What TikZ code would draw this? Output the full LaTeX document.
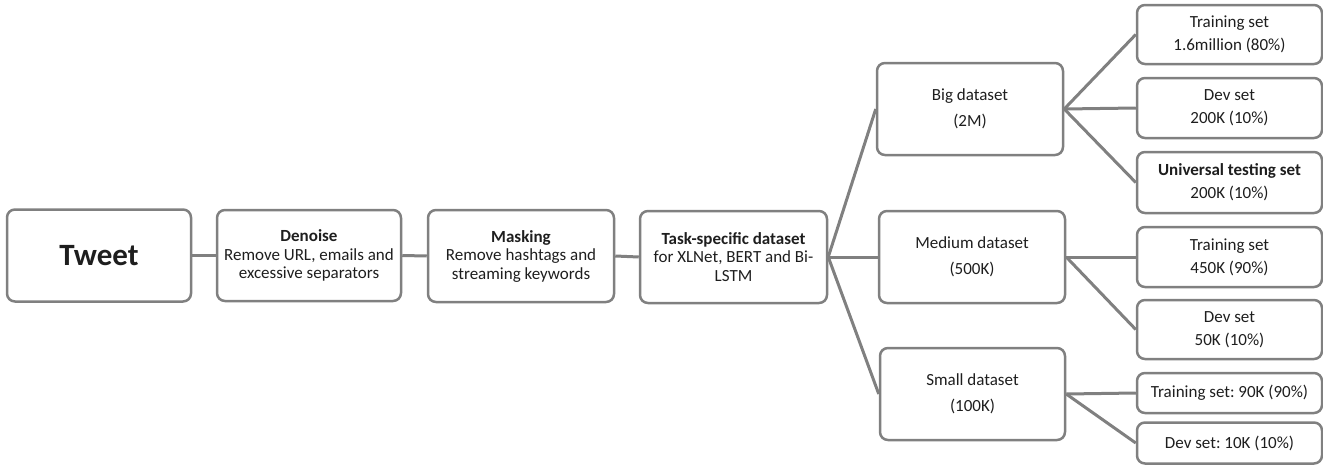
\documentclass[tikz,border=0pt]{standalone}
\usepackage{fontspec}
\setmainfont{Carlito}
\frenchspacing
\definecolor{boxgray}{RGB}{128,128,128}
\definecolor{txtgray}{RGB}{30,30,30}

\tikzset{every picture/.style={line width=2.5pt}}
\tikzset{
  stagebox/.style={draw=boxgray, rounded corners=8pt, align=center, inner sep=1pt,
    text=txtgray, font=\fontsize{17}{18.5}\selectfont},
  databox/.style={stagebox, font=\fontsize{17}{26}\selectfont},
  splitbox/.style={stagebox, font=\fontsize{17}{23}\selectfont},
  link/.style={draw=boxgray, line width=3pt}
}

\begin{document}
\begin{tikzpicture}[x=1pt,y=1pt,yscale=-1,xscale=1]
  \useasboundingbox (0,0) rectangle (1323,466);

  % pipeline
  \node [stagebox, minimum width=184, minimum height=92, font=\fontsize{31}{34}\selectfont\bfseries] (tweet) at (99,255.5) {Tweet};
  \node [stagebox, minimum width=184, minimum height=91] (denoise) at (309,255.5) {\textbf{Denoise}\\Remove URL, emails and\\excessive separators};
  \node [stagebox, minimum width=186, minimum height=92] (masking) at (521,256) {\textbf{Masking}\\Remove hashtags and\\streaming keywords};
  \node [stagebox, minimum width=187, minimum height=92] (task) at (733.5,257) {\textbf{Task-specific dataset}\\for XLNet, BERT and Bi-\\LSTM};

  % datasets
  \node [databox, minimum width=186, minimum height=92] (big) at (970,109) {Big dataset\\(2M)};
  \node [databox, minimum width=186, minimum height=92] (medium) at (972,257) {Medium dataset\\(500K)};
  \node [databox, minimum width=185, minimum height=92] (small) at (972.5,394) {Small dataset\\(100K)};

  % splits
  \node [splitbox, minimum width=185, minimum height=59] (bigtrain) at (1229.5,34.5) {Training set\\1.6million (80\%)};
  \node [splitbox, minimum width=185, minimum height=60] (bigdev) at (1229.5,108) {Dev set\\200K (10\%)};
  \node [splitbox, minimum width=185, minimum height=61] (bigtest) at (1229.5,182.5) {\textbf{Universal testing set}\\200K (10\%)};
  \node [splitbox, minimum width=185, minimum height=60] (medtrain) at (1229.5,257) {Training set\\450K (90\%)};
  \node [splitbox, minimum width=185, minimum height=59] (meddev) at (1229.5,329.5) {Dev set\\50K (10\%)};
  \node [splitbox, minimum width=185, minimum height=40] (smalltrain) at (1229.5,393) {Training set: 90K (90\%)};
  \node [splitbox, minimum width=185, minimum height=41] (smalldev) at (1229.5,443) {Dev set: 10K (10\%)};

  % connectors
  \draw [link] (tweet.east) -- (denoise.west);
  \draw [link] (denoise.east) -- (masking.west);
  \draw [link] (masking.east) -- (task.west);
  \draw [link] (task.east) -- (big.west);
  \draw [link] (task.east) -- (medium.west);
  \draw [link] (task.east) -- (small.west);
  \draw [link] (big.east) -- (bigtrain.west);
  \draw [link] (big.east) -- (bigdev.west);
  \draw [link] (big.east) -- (bigtest.west);
  \draw [link] (medium.east) -- (medtrain.west);
  \draw [link] (medium.east) -- (meddev.west);
  \draw [link] (small.east) -- (smalltrain.west);
  \draw [link] (small.east) -- (smalldev.west);
\end{tikzpicture}
\end{document}
